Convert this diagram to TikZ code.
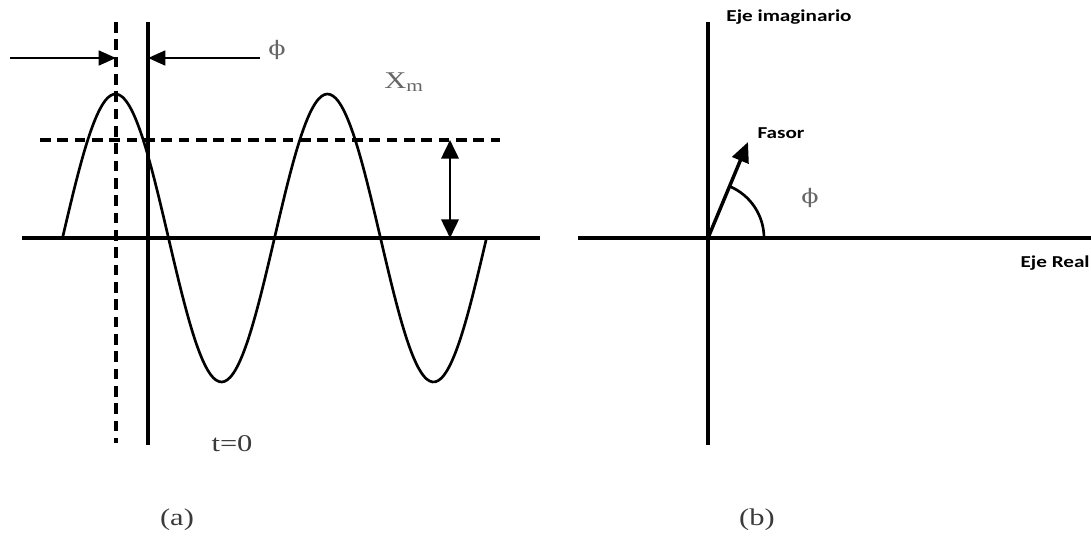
\documentclass[tikz,border=0pt]{standalone}
\usepackage{fontspec}
\setmainfont{Liberation Serif}
\newfontfamily\calib{Carlito}
\newfontfamily\dvserif{DejaVu Serif}
\usetikzlibrary{arrows.meta}
\definecolor{greytxt}{HTML}{666666}
\definecolor{darktxt}{HTML}{3A3A3A}

\tikzset{
  wave/.style={line width=2pt},
  axis/.style={line width=2.4pt},
  dashln/.style={line width=3pt,dash pattern=on 8pt off 5pt},
  tip/.style={line width=2pt,-{Triangle[length=13pt,width=11pt]}},
  serif/.style={font=\fontsize{18}{20}\selectfont,xscale=1.27,inner sep=0pt},
  calib/.style={font=\calib\bfseries\fontsize{12.5}{14}\selectfont,xscale=1.27,inner sep=0pt},
}
\newcommand{\fase}{{\dvserif\fontsize{15}{16}\selectfont ϕ}}

\begin{document}
\begin{tikzpicture}[x=0.75pt,y=0.75pt]
\useasboundingbox (0,-313) rectangle (1091,238);
% (a) senoide desfasada
\coordinate (t0top) at (148,216); \coordinate (t0bot) at (148,-207);
\coordinate (pktop) at (116,216); \coordinate (pkbot) at (116,-205);
\draw[axis] (22,0) -- (540,0);
\draw[line width=3.2pt] (t0top) -- (t0bot);
\draw[dashln] (pktop) -- (pkbot);
\draw[wave,domain=62.5:486.5,samples=150,smooth] plot (\x,{144*sin((\x-62.5)/212*360)});
\draw[dashln] (40,98) -- (500,98);
\coordinate (lin) at (10,180); \coordinate (lpk) at (116,180);
\coordinate (rin) at (260,180); \coordinate (rt0) at (148,180);
\draw[tip] (lin) -- (lpk); \draw[tip] (rin) -- (rt0);
\coordinate (amptop) at (450,98); \coordinate (ampbot) at (450,0);
\draw[line width=2pt,{Triangle[length=14pt,width=13pt]}-{Triangle[length=14pt,width=13pt]}] (amptop) -- (ampbot);
\node[serif,text=greytxt] (phia) at (277,188) {\fase};
\node[serif,text=greytxt] (xm) at (404,156) {X\textsubscript{m}};
\node[serif,text=darktxt] (tzero) at (232,-206) {t=0};
\node[serif,text=darktxt] (capa) at (177,-282) {(a)};
% (b) fasor
\coordinate (imtop) at (708,216); \coordinate (imbot) at (708,-207);
\coordinate (orig) at (708,0); \coordinate (fz) at (748,96);
\draw[line width=3pt] (578,0) -- (1091,0);
\draw[line width=3pt] (imtop) -- (imbot);
\draw[line width=2.6pt,-{Triangle[length=15pt,width=13pt]}] (orig) -- (fz);
\draw[line width=2pt] (764,0) arc[start angle=0,end angle=67.4,radius=56];
\node[calib] (fasor) at (781,105) {Fasor};
\node[serif,text=greytxt] (phib) at (810,40) {\fase};
\node[calib] (imag) at (789,221) {Eje imaginario};
\node[calib,anchor=east] (real) at (1090,-25) {Eje Real};
\node[serif,text=darktxt] (capb) at (757,-282) {(b)};
\end{tikzpicture}
\end{document}
